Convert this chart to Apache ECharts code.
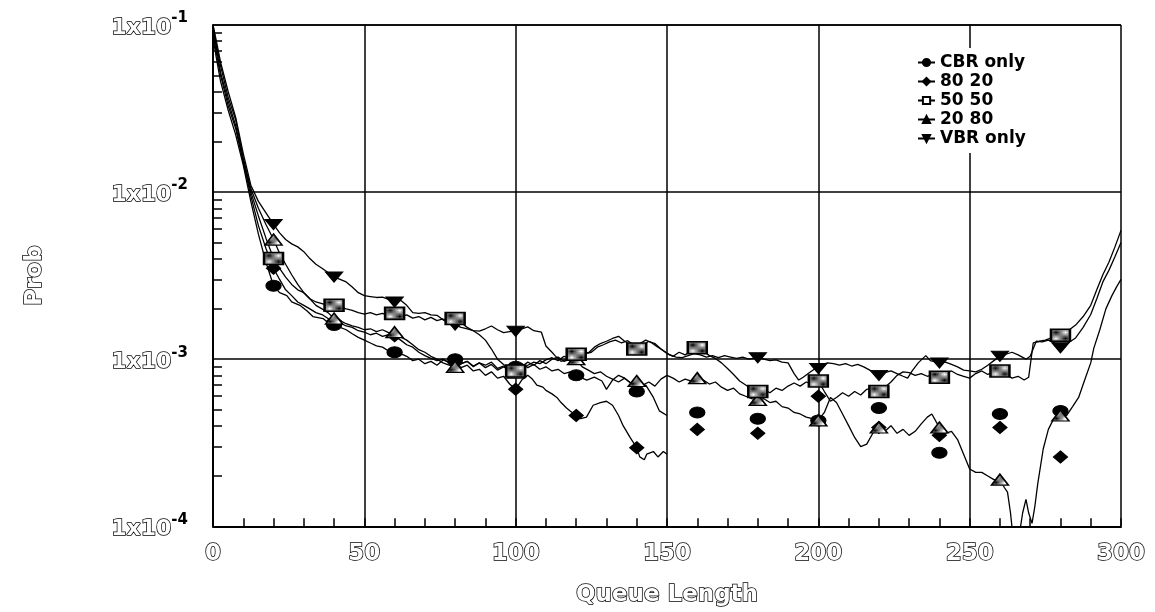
<!DOCTYPE html>
<html>
<head>
<meta charset="utf-8">
<script src="https://cdn.jsdelivr.net/npm/echarts@6/dist/echarts.min.js"></script>
<style>
  html, body { margin: 0; background: #fff; }
  #chart { width: 1155px; height: 612px; }
</style>
</head>
<body>
<div id="chart"></div>
<script>
// queue length distribution
const seriesNames = ['CBR only', '80 20', '50 50', '20 80', 'VBR only'];
const markX = [20, 40, 60, 80, 100, 120, 140, 160, 180, 200, 220, 240, 260, 280];
const yTicks = [1e-4, 1e-3, 1e-2, 1e-1];

// traces [queue length, prob]
const cbrLine = [[0, 0.085], [1, 0.065], [2.5, 0.046], [5, 0.031], [7.5, 0.022], [10, 0.0145], [12.5, 0.0088], [15, 0.0056], [17.5, 0.0038], [20, 0.00275],
  [22, 0.0025], [24.4, 0.0024], [26, 0.0022], [28.7, 0.0021], [31, 0.00195], [33, 0.0018], [36.4, 0.00175], [38, 0.00165], [40, 0.0016], [42, 0.00155],
  [44, 0.0015], [46, 0.00142], [48, 0.00135], [50, 0.0013], [52, 0.00125], [54, 0.0012], [56, 0.00118], [58, 0.00112], [60, 0.0011], [62, 0.00108],
  [64, 0.00104], [66, 0.00098], [68, 0.001], [70, 0.00094], [72, 0.00097], [74, 0.00092], [76, 0.00099], [78, 0.00096], [80, 0.001], [82, 0.00094],
  [84, 0.00097], [86, 0.0009], [88, 0.00095], [90, 0.00092], [92, 0.00096], [94, 0.00088], [96, 0.00091], [98, 0.00086], [100, 0.0009], [102, 0.00094],
  [104, 0.00089], [106, 0.00093], [108, 0.00087], [110, 0.0009], [112, 0.00085], [114, 0.00087], [116, 0.00082], [118, 0.00084], [120, 0.0008], [122, 0.00077],
  [123.5, 0.00075], [126, 0.00078], [128.5, 0.00074], [130, 0.00066], [132, 0.00075], [134, 0.0008], [136, 0.00077], [138, 0.00072], [140, 0.00064], [141.5, 0.00068],
  [143, 0.0007], [145.5, 0.00059], [147.5, 0.00049], [150, 0.00046]];

const line8020 = [[0, 0.09], [1, 0.07], [2.5, 0.05], [5, 0.033], [7.5, 0.024], [10, 0.015], [12.5, 0.0095], [15, 0.0063], [17.5, 0.0046], [20, 0.0035],
  [22, 0.003], [24, 0.0026], [26, 0.0024], [28, 0.0022], [30, 0.0021], [32, 0.002], [34, 0.0019], [36, 0.00185], [38, 0.00175], [40, 0.0017],
  [42, 0.00165], [44, 0.00158], [46, 0.00155], [48, 0.00148], [50, 0.00145], [52, 0.0014], [54, 0.00143], [56, 0.00137], [58, 0.0014], [60, 0.00138],
  [62, 0.0013], [64, 0.00122], [66, 0.00118], [68, 0.0011], [70, 0.00105], [72, 0.00101], [74, 0.00098], [76, 0.001], [78, 0.00095], [80, 0.00095],
  [82, 0.00089], [84, 0.00092], [86, 0.00085], [88, 0.00087], [90, 0.0008], [92, 0.00084], [94, 0.00077], [96, 0.00079], [98, 0.00071], [100, 0.00066],
  [102, 0.00075], [104, 0.0008], [105.5, 0.00076], [107, 0.0007], [109, 0.00068], [110, 0.00065], [112, 0.00062], [113.6, 0.00059], [115, 0.00055], [116.8, 0.00051],
  [118, 0.00049], [120, 0.00046], [121.5, 0.00044], [123.4, 0.00045], [125.6, 0.00053], [128, 0.00055], [130, 0.00056], [132, 0.00053], [134, 0.00046], [135.5, 0.0004],
  [137.8, 0.00034], [140, 0.000295], [141, 0.00026], [142.5, 0.00025], [143.3, 0.00027], [145.5, 0.00028], [147, 0.00026], [148.8, 0.00028], [150, 0.00027]];

const line5050 = [[0, 0.095], [1, 0.075], [2.5, 0.052], [5, 0.035], [7.5, 0.025], [10, 0.0155], [12.5, 0.01], [15, 0.0072], [17.5, 0.0053], [20, 0.004],
  [22, 0.0035], [24, 0.0031], [26, 0.0028], [28, 0.0026], [30, 0.0025], [32, 0.0023], [34, 0.0022], [36, 0.00215], [38, 0.0021], [40, 0.0021],
  [42, 0.00205], [44, 0.002], [46, 0.00196], [48, 0.0019], [50, 0.00186], [52, 0.0019], [54, 0.00184], [56, 0.00188], [58, 0.00182], [60, 0.00188],
  [62, 0.0018], [64, 0.00184], [66, 0.00176], [68, 0.0018], [70, 0.00172], [72, 0.00178], [74, 0.0017], [76, 0.00174], [78, 0.00168], [80, 0.00175],
  [82, 0.00165], [84, 0.00155], [86, 0.00148], [88, 0.0014], [90, 0.0013], [92, 0.00115], [94, 0.001], [96, 0.00093], [98, 0.00088], [100, 0.00085],
  [102, 0.00088], [104, 0.00092], [106, 0.00096], [108, 0.00094], [110, 0.00099], [112, 0.00102], [114, 0.00098], [116, 0.00104], [118, 0.00101], [120, 0.00107],
  [122, 0.00112], [124, 0.00109], [126, 0.00118], [128, 0.00124], [130, 0.00128], [132, 0.00133], [134, 0.00137], [136, 0.00128], [138, 0.00122], [140, 0.00115],
  [142, 0.00121], [144, 0.00128], [146, 0.00124], [148, 0.00115], [150, 0.00108], [152, 0.00104], [154, 0.0011], [156, 0.00106], [158, 0.00113], [160, 0.00117],
  [162, 0.00112], [164, 0.00105], [166, 0.00101], [168, 0.00095], [170, 0.00088], [172, 0.00081], [174, 0.00074], [176, 0.0007], [178, 0.00066], [180, 0.00064],
  [182, 0.00066], [184, 0.00063], [186, 0.00067], [188, 0.00065], [190, 0.00069], [192, 0.00072], [194, 0.00069], [196, 0.00073], [198, 0.00071], [200, 0.00074],
  [202, 0.00064], [204, 0.00056], [206, 0.00059], [208, 0.00063], [210, 0.0006], [212, 0.00064], [214, 0.00061], [216, 0.00066], [218, 0.00067], [220, 0.00064],
  [222, 0.00068], [224, 0.00073], [226, 0.0008], [228, 0.00084], [230, 0.00083], [232, 0.0008], [234, 0.00082], [236, 0.00079], [238, 0.00081], [240, 0.00078],
  [242, 0.00082], [244, 0.00085], [246, 0.00081], [248, 0.00079], [250, 0.00077], [252, 0.00082], [254, 0.00085], [256, 0.00081], [258, 0.00084], [260, 0.00085],
  [262, 0.00081], [264, 0.00077], [266, 0.00079], [268, 0.00075], [269.5, 0.00078], [271, 0.00125], [273, 0.00128], [275, 0.0013], [277, 0.00134], [280, 0.00139],
  [282.5, 0.00148], [285, 0.0016], [287.5, 0.0018], [290, 0.0021], [292, 0.0026], [294, 0.0032], [296, 0.0038], [298, 0.0047], [300, 0.0059]];

const line2080 = [[0, 0.1], [1, 0.078], [2.5, 0.057], [5, 0.037], [7.5, 0.027], [10, 0.016], [12.5, 0.0105], [15, 0.008], [17.5, 0.0064], [20, 0.0052],
  [22, 0.0043], [24, 0.0037], [26, 0.0032], [28, 0.0028], [30, 0.0025], [32, 0.0023], [34, 0.0021], [36, 0.002], [38, 0.0019], [40, 0.00175],
  [42, 0.0017], [44, 0.00163], [46, 0.00158], [48, 0.00155], [50, 0.0015], [52, 0.00152], [54, 0.00146], [56, 0.0015], [58, 0.00144], [60, 0.00145],
  [62, 0.00136], [64, 0.0013], [66, 0.00122], [68, 0.00114], [70, 0.0011], [72, 0.00104], [74, 0.001], [76, 0.00095], [78, 0.00092], [80, 0.0009],
  [82, 0.00094], [84, 0.00097], [86, 0.00091], [88, 0.00095], [90, 0.00089], [92, 0.00093], [94, 0.00086], [96, 0.0009], [98, 0.00085], [100, 0.00083],
  [102, 0.0009], [104, 0.00096], [106, 0.00092], [108, 0.00098], [110, 0.00094], [112, 0.001], [114, 0.00103], [116, 0.00097], [118, 0.001], [120, 0.00099],
  [122, 0.0009], [124, 0.00086], [126, 0.00082], [128, 0.00084], [130, 0.00079], [132, 0.00076], [134, 0.00073], [136, 0.00077], [138, 0.00072], [140, 0.00074],
  [142, 0.0007], [144, 0.00073], [146, 0.00069], [148, 0.00076], [150, 0.0008], [152, 0.00077], [154, 0.00073], [156, 0.00076], [158, 0.00074], [160, 0.00077],
  [162, 0.00075], [164, 0.00071], [166, 0.00073], [168, 0.00068], [170, 0.00065], [172, 0.00067], [174, 0.00062], [176, 0.0006], [178, 0.00058], [180, 0.00057],
  [182, 0.00058], [184, 0.00055], [186, 0.00056], [188, 0.00052], [190, 0.00051], [192, 0.00048], [194, 0.00047], [196, 0.00045], [198, 0.00044], [200, 0.00043],
  [202, 0.00048], [204, 0.00059], [206, 0.00055], [208, 0.00047], [210, 0.0004], [212, 0.00034], [214, 0.0003], [216, 0.00031], [218, 0.00036], [220, 0.00039],
  [222, 0.00037], [224, 0.0004], [226, 0.00036], [228, 0.00038], [230, 0.00035], [232, 0.00037], [234, 0.00041], [236, 0.00045], [237.5, 0.00047], [239, 0.00042],
  [240, 0.00039], [242, 0.00036], [244, 0.00037], [246, 0.00033], [248, 0.00027], [250, 0.00022], [252, 0.00021], [254, 0.00021], [256, 0.0002], [258, 0.00019],
  [260, 0.00019], [261.5, 0.00017], [262.5, 0.00016], [263.5, 0.00012], [264.5, 0.00008], [266, 0.00008], [267.5, 0.00012], [268.6, 0.000145], [269.5, 0.00012], [270.6, 0.000104],
  [271.5, 0.00013], [272.5, 0.00018], [274.3, 0.00029], [276, 0.00038], [277.5, 0.00043], [280, 0.00047], [282, 0.00046], [284, 0.00052], [286, 0.00059], [288, 0.00075],
  [290, 0.00095], [291, 0.00116], [293, 0.0015], [295, 0.002], [297, 0.0024], [298.5, 0.0027], [300, 0.003]];

const vbrLine = [[0, 0.1], [1, 0.082], [2.5, 0.06], [5, 0.04], [7.5, 0.028], [10, 0.017], [12.5, 0.011], [15, 0.0088], [17.5, 0.0075], [20, 0.0064],
  [22, 0.0057], [24, 0.0052], [26, 0.0049], [28, 0.0047], [30, 0.0044], [32, 0.004], [34, 0.0037], [36, 0.0035], [38, 0.0033], [40, 0.0031],
  [42, 0.003], [44, 0.0029], [46, 0.0027], [48, 0.0025], [50, 0.0024], [52, 0.00237], [54, 0.00234], [56, 0.00235], [58, 0.00228], [60, 0.0022],
  [62, 0.00225], [64, 0.0021], [66, 0.0019], [68, 0.00188], [70, 0.0019], [72, 0.00184], [74, 0.00183], [76, 0.00172], [78, 0.00165], [80, 0.0016],
  [82, 0.00155], [84, 0.00152], [86, 0.00148], [88, 0.00147], [90, 0.00152], [92, 0.00158], [94, 0.0015], [96, 0.00144], [98, 0.00146], [100, 0.00147],
  [102, 0.00152], [104, 0.00156], [106, 0.00148], [108.5, 0.00145], [110, 0.0012], [112, 0.0011], [113, 0.00105], [115, 0.00097], [117, 0.001], [119, 0.00104],
  [121, 0.00102], [123, 0.00108], [125, 0.0011], [127, 0.00118], [129, 0.00122], [131, 0.00127], [133, 0.0013], [135, 0.00125], [137, 0.00129], [139, 0.00122],
  [141, 0.00124], [143, 0.0013], [145, 0.00125], [147, 0.00118], [149, 0.00112], [151, 0.00106], [153, 0.00103], [155, 0.00102], [157, 0.00105], [159, 0.00108],
  [161, 0.00106], [163, 0.00103], [165, 0.00105], [167, 0.00102], [169, 0.00105], [171, 0.00103], [173, 0.00101], [175, 0.00103], [177, 0.001], [180, 0.00102],
  [182, 0.001], [184, 0.00098], [186, 0.00099], [188, 0.00096], [190, 0.00095], [192, 0.00082], [193.5, 0.00075], [195, 0.00078], [197, 0.00083], [199, 0.00088],
  [201, 0.00092], [203, 0.00095], [205, 0.00094], [207, 0.00092], [209, 0.00094], [211, 0.00091], [213, 0.00093], [215, 0.0009], [217, 0.00086], [220, 0.0008],
  [222, 0.00083], [224, 0.00085], [226, 0.00082], [228, 0.00079], [229.5, 0.00077], [231, 0.00085], [233, 0.00095], [235.5, 0.00105], [237, 0.00098], [240, 0.00095],
  [242, 0.00096], [244, 0.00093], [246, 0.0009], [248, 0.00086], [250, 0.00085], [252, 0.00084], [254, 0.00087], [256, 0.00092], [258, 0.00098], [260, 0.00104],
  [262, 0.00107], [264, 0.0011], [266, 0.00106], [268.6, 0.001], [270, 0.00104], [272, 0.00128], [274, 0.00127], [276, 0.0013], [278, 0.00125], [280, 0.00117],
  [282.5, 0.00125], [285, 0.00134], [287.5, 0.00155], [290, 0.00185], [292, 0.0023], [294, 0.0029], [296, 0.0034], [298, 0.0041], [300, 0.005]];

// plotted markers every 20 (CBR and 80/20 markers continue past where the traces stop)
const cbrMarks = [2.75e-3, 1.6e-3, 1.1e-3, 1.0e-3, 9.0e-4, 8.0e-4, 6.4e-4, 4.8e-4, 4.4e-4, 4.3e-4, 5.1e-4, 2.75e-4, 4.7e-4, 4.9e-4];
const marks8020 = [3.5e-3, 1.7e-3, 1.38e-3, 9.5e-4, 6.6e-4, 4.6e-4, 2.95e-4, 3.8e-4, 3.6e-4, 6.0e-4, 3.9e-4, 3.5e-4, 3.9e-4, 2.6e-4];
const marks5050 = [4.0e-3, 2.1e-3, 1.88e-3, 1.75e-3, 8.5e-4, 1.07e-3, 1.15e-3, 1.17e-3, 6.4e-4, 7.4e-4, 6.4e-4, 7.8e-4, 8.5e-4, 1.39e-3];
const marks2080 = [5.2e-3, 1.75e-3, 1.45e-3, 9.0e-4, 8.3e-4, 1.0e-3, 7.4e-4, 7.7e-4, 5.7e-4, 4.3e-4, 3.9e-4, 3.9e-4, 1.9e-4, 4.6e-4];
const vbrMarks = [6.4e-3, 3.1e-3, 2.2e-3, 1.6e-3, 1.47e-3, 1.07e-3, 1.15e-3, 1.17e-3, 1.02e-3, 8.8e-4, 8.0e-4, 9.5e-4, 1.04e-3, 1.17e-3];

const FONT = 'DejaVu Sans';

function pattern(kind) {
  const c = document.createElement('canvas');
  const ctx = c.getContext('2d');
  if (kind === 'check') {
    c.width = 2; c.height = 2;
    ctx.fillStyle = '#fff'; ctx.fillRect(0, 0, 2, 2);
    ctx.fillStyle = '#000'; ctx.fillRect(0, 0, 1, 1); ctx.fillRect(1, 1, 1, 1);
  } else {
    c.width = 3; c.height = 3;
    ctx.fillStyle = '#fff'; ctx.fillRect(0, 0, 3, 3);
    ctx.fillStyle = '#000';
    ctx.fillRect(0, 2, 1, 1); ctx.fillRect(1, 1, 1, 1); ctx.fillRect(2, 0, 1, 1);
  }
  return { image: c, repeat: 'repeat' };
}

// minor ticks 2..9 of each decade, in log10 space for the helper axis
const minorTicks = [];
for (let d = -4; d < -1; d++) {
  for (let k = 2; k <= 9; k++) minorTicks.push(d + Math.log10(k));
}

const styles = [
  { symbol: 'circle', size: [15, 11], rotate: 0, fill: '#000', legendFill: '#000', border: 1.2 },
  { symbol: 'diamond', size: [14, 12], rotate: 0, fill: '#000', legendFill: '#000', border: 1.2 },
  { symbol: 'rect', size: [19, 12], rotate: 0, fill: pattern('check'), legendFill: '#fff', border: 2 },
  { symbol: 'triangle', size: [17, 11], rotate: 0, fill: pattern('hatch'), legendFill: '#000', border: 1.5 },
  { symbol: 'triangle', size: [17, 10], rotate: 180, fill: '#000', legendFill: '#000', border: 1.2 }
];
const traces = [cbrLine, line8020, line5050, line2080, vbrLine];
const marks = [cbrMarks, marks8020, marks5050, marks2080, vbrMarks];

const series = [];
seriesNames.forEach((name, i) => {
  const st = styles[i];
  series.push({
    name: name,
    type: 'line',
    data: traces[i],
    showSymbol: false,
    symbol: st.symbol,
    symbolRotate: st.rotate,
    lineStyle: { color: '#000', width: 1.3 },
    itemStyle: { color: st.legendFill, borderColor: '#000', borderWidth: 1.2 },
    emphasis: { disabled: true },
    z: 2
  });
});
// marker layers: VBR first so the checkered boxes sit on top of it
[4, 0, 1, 3, 2].forEach(i => {
  const st = styles[i];
  series.push({
    name: seriesNames[i] + ' points',
    type: 'scatter',
    data: markX.map((x, j) => [x, marks[i][j]]),
    symbol: st.symbol,
    symbolSize: st.size,
    symbolRotate: st.rotate,
    itemStyle: { color: st.fill, borderColor: '#000', borderWidth: st.border, opacity: 1 },
    emphasis: { disabled: true },
    silent: true,
    z: 3
  });
});

// scanned labels look like outlined letters
const hollow = { color: '#fff', textBorderColor: '#000', textBorderWidth: 1.5, fontFamily: FONT, fontWeight: 'bold' };

const chart = echarts.init(document.getElementById('chart'), null, { renderer: 'canvas' });
chart.setOption({
  animation: false,
  backgroundColor: '#fff',
  grid: { left: 213, right: 34, top: 25, bottom: 83 },
  legend: {
    data: seriesNames,
    orient: 'vertical',
    left: 913,
    top: 48,
    itemWidth: 17,
    itemHeight: 9,
    itemGap: 2,
    padding: [6, 6, 6, 4],
    backgroundColor: '#fff',
    selectedMode: false,
    textStyle: { fontFamily: FONT, fontWeight: 'bold', fontSize: 17, lineHeight: 16.5, color: '#000' }
  },
  xAxis: {
    type: 'value',
    min: 0,
    max: 300,
    interval: 50,
    name: 'Queue Length',
    nameLocation: 'middle',
    nameGap: 57,
    nameTextStyle: Object.assign({ fontSize: 23 }, hollow),
    axisLine: { lineStyle: { color: '#000', width: 2 } },
    axisTick: { inside: true, length: 8, lineStyle: { color: '#000', width: 1.5 } },
    minorTick: { show: true, splitNumber: 5, length: 8, lineStyle: { color: '#000', width: 1.5 } },
    splitLine: { lineStyle: { color: '#000', width: 1.5 } },
    axisLabel: Object.assign({ margin: 16, fontSize: 23 }, hollow)
  },
  yAxis: [{
    type: 'log',
    logBase: 10,
    min: yTicks[0],
    max: yTicks[yTicks.length - 1],
    name: 'Prob',
    nameLocation: 'middle',
    nameRotate: 90,
    nameGap: 166,
    nameTextStyle: Object.assign({ fontSize: 23 }, hollow),
    axisLine: { lineStyle: { color: '#000', width: 2 } },
    axisTick: { show: false },
    splitLine: { lineStyle: { color: '#000', width: 1.5 } },
    axisLabel: {
      margin: 25,
      formatter: v => '{b|1x10}{s|' + Math.round(Math.log10(v)) + '}',
      rich: {
        b: Object.assign({ fontSize: 22, lineHeight: 28, verticalAlign: 'bottom', padding: [6, 0, 0, 0] }, hollow),
        s: { fontFamily: FONT, fontSize: 15, fontWeight: 'bold', color: '#000', lineHeight: 15, verticalAlign: 'top' }
      }
    }
  }, {
    type: 'value',
    position: 'left',
    min: -4,
    max: -1,
    axisLine: { show: false },
    axisLabel: { show: false },
    splitLine: { show: false },
    axisTick: { show: true, inside: true, length: 9, customValues: minorTicks, lineStyle: { color: '#000', width: 1.5 } }
  }],
  series: series
});
</script>
</body>
</html>
